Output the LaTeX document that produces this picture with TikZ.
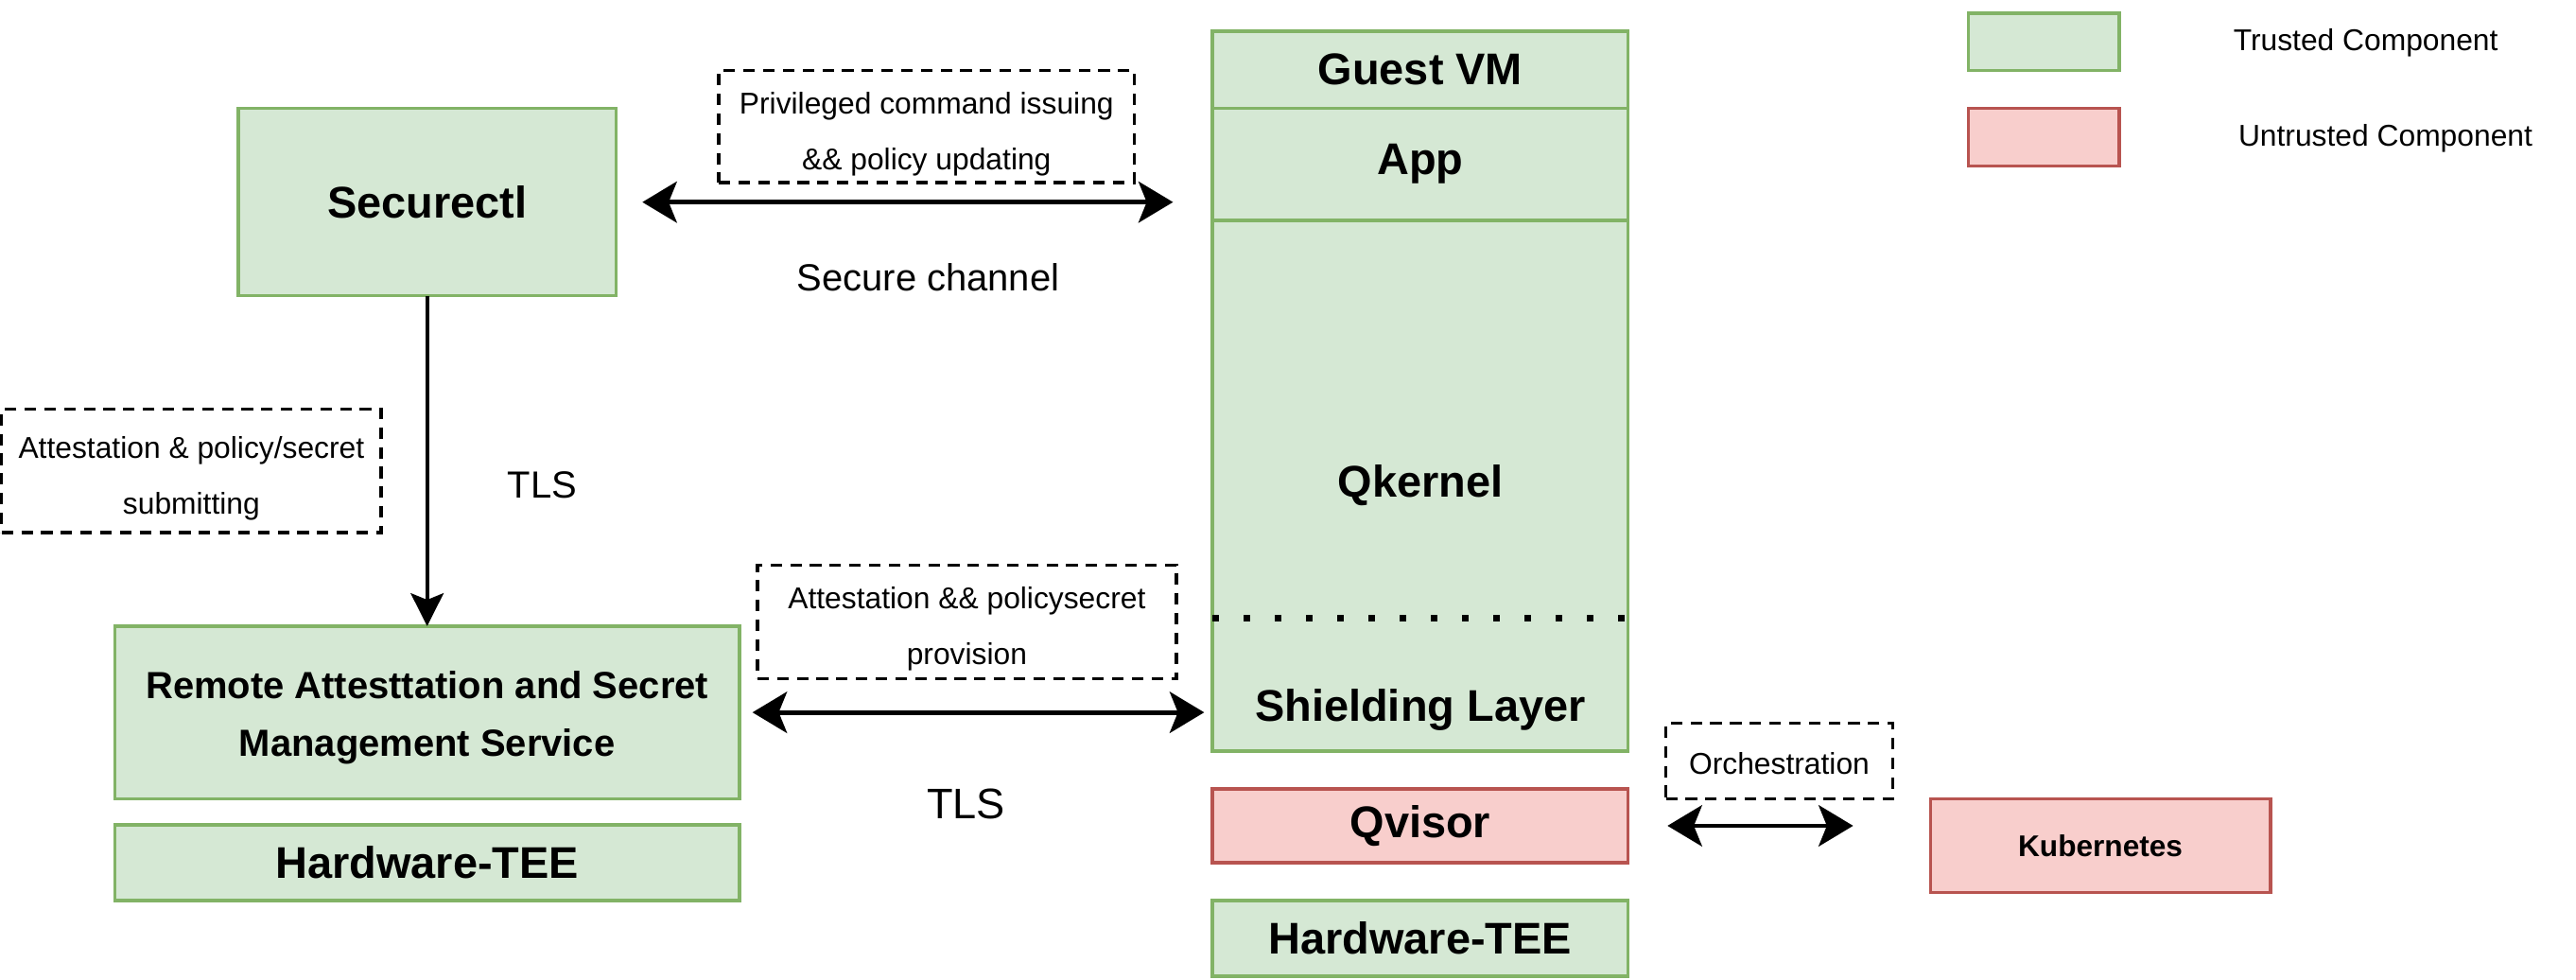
\documentclass[tikz,border=0pt]{standalone}
\usepackage{fontspec}
\setmainfont{Liberation Sans}
\usetikzlibrary{positioning, calc, arrows.meta}
\definecolor{trustfill}{HTML}{D5E8D4}
\definecolor{truststroke}{HTML}{82B366}
\definecolor{untrustfill}{HTML}{F8CECC}
\definecolor{untruststroke}{HTML}{B85450}

\begin{document}
\begin{tikzpicture}[
            x=1pt, y=-1pt,
            node distance=16pt and 16pt,
            trusted/.style = {rectangle, draw=truststroke, fill=trustfill, line width=2pt, inner sep=0pt, outer sep=0pt,
                    align=center, font=\fontsize{27}{32}\selectfont\bfseries},
            untrusted/.style = {trusted, draw=untruststroke, fill=untrustfill},
            notebox/.style = {rectangle, draw, dash pattern=on 7pt off 5pt, line width=2pt, inner sep=0pt,
                    align=center, text height=56pt, font=\fontsize{18.3}{34}\selectfont},
            legendtext/.style = {font=\fontsize{18.3}{22}\selectfont},
            chantext/.style = {font=\fontsize{23}{28}\selectfont},
            biarrow/.style = {{Stealth[length=21pt,width=25pt,inset=5pt]}-{Stealth[length=21pt,width=25pt,inset=5pt]}, line width=2.8pt},
            sepline/.style = {line width=4pt, dash pattern=on 4pt off 15pt}
        ]
        \useasboundingbox (0,0) rectangle (1568,596.3);

        \node (secctl)  [trusted, minimum width=230pt, minimum height=114pt] at (260,123) {Securectl};
        \node (rams)    [trusted, minimum width=380pt, minimum height=105pt, text height=58pt, font=\fontsize{23}{35}\selectfont\bfseries] at (260,433.5) {Remote Attesttation and Secret\\ Management Service};
        \node (hwleft)  [trusted, minimum width=380pt, minimum height=46pt, below=16pt of rams] {Hardware-TEE};

        \node (guestvm) [trusted, minimum width=253pt, minimum height=47pt] at (864.5,42.5) {Guest VM};
        \node (app)     [trusted, minimum width=253pt, minimum height=68pt, below=0pt of guestvm] {App};
        \node (qkernel) [trusted, minimum width=253pt, minimum height=323pt, below=0pt of app] {Qkernel};
        \node (shield)  [anchor=south, minimum height=50pt, font=\fontsize{27}{32}\selectfont\bfseries] at (qkernel.south) {Shielding Layer};
        \node (qvisor)  [untrusted, minimum width=253pt, minimum height=45pt, below=23pt of qkernel] {Qvisor};
        \node (hwright) [trusted, minimum width=253pt, minimum height=46pt, below=23pt of qvisor] {Hardware-TEE};
        \node (k8s)     [untrusted, minimum width=207pt, minimum height=57pt, font=\fontsize{18.2}{22}\selectfont\bfseries] at (1278.5,514.5) {Kubernetes};

        \node (privnote) [notebox, minimum width=253pt, minimum height=68pt] at (564,77) {Privileged command issuing\\ \&\& policy updating};
        \node (attnote)  [notebox, minimum width=231pt, minimum height=75pt] at (116.5,286.5) {Attestation \& policy/secret\\ submitting};
        \node (provnote) [notebox, minimum width=255pt, minimum height=69pt] at (588.5,378.5) {Attestation \&\& policysecret\\ provision};
        \node (orchnote) [notebox, minimum width=138pt, minimum height=46pt, text height=17pt] at (1083,463) {Orchestration};

        \node (chanlabel) [chantext] at (565,169) {Secure channel};
        \node (tlsup)     [chantext] at (330,295) {TLS};
        \node (tlsdown)   [chantext, font=\fontsize{26}{30}\selectfont] at (588,489) {TLS};

        \node (trustkey)     [trusted, minimum width=92pt, minimum height=35pt] at (1244,25.5) {};
        \node (untrustkey)   [untrusted, minimum width=92pt, minimum height=35pt] at (1244,83.5) {};
        \node (trustlabel)   [legendtext] at (1440,26) {Trusted Component};
        \node (untrustlabel) [legendtext] at (1452,84) {Untrusted Component};

        \draw [sepline] ([yshift=81pt]qkernel.south west) -- ([yshift=81pt]qkernel.south east);

        \draw [biarrow, shorten <=16pt, shorten >=24pt] (secctl.east) -- (secctl.east -| app.west);
        \draw [biarrow, shorten <=8pt, shorten >=5pt]   (rams.east)   -- (rams.east -| qkernel.west);
        \draw [biarrow, shorten <=24pt, shorten >=47pt] (qvisor.east) -- (qvisor.east -| k8s.west);
        \draw [-{Stealth[length=20pt,width=20pt,inset=4pt]}, line width=2.2pt] (secctl.south) -- (rams.north);
    \end{tikzpicture}
\end{document}
